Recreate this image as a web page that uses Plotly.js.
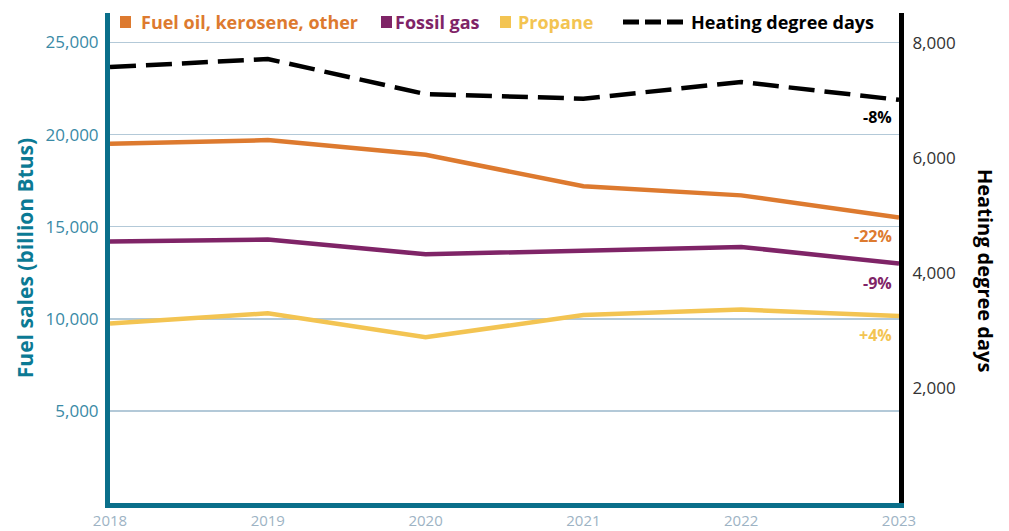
<!DOCTYPE html>
<html><head><meta charset="utf-8">
<script src="https://cdn.plot.ly/plotly-3.0.1.min.js"></script>
<style>html,body{margin:0;padding:0;background:#fff}#chart{width:1009px;height:531px}</style>
</head><body><div id="chart"></div>
<script>
const years = [2018, 2019, 2020, 2021, 2022, 2023];
const fuelOil = [19500, 19700, 18900, 17200, 16700, 15500];
const fossilGas = [14200, 14300, 13500, 13700, 13900, 13000];
const propane = [9750, 10300, 9000, 10200, 10500, 10150];
const hdd = [7580, 7720, 7110, 7030, 7320, 7010];
const seriesNames = ['Fuel oil, kerosene, other', 'Fossil gas', 'Propane', 'Heating degree days'];
const changeLabels = ['-22%', '-9%', '+4%', '-8%'];

const C_OIL = '#dd7a2f', C_GAS = '#7f2467', C_PRO = '#f3c452', C_HDD = '#000000';
const TEAL = '#0a6f8a';
const FONT = 'Open Sans, sans-serif';

const traces = [
  {x: years, y: fuelOil, name: seriesNames[0], mode: 'lines', line: {color: C_OIL, width: 4.5}},
  {x: years, y: fossilGas, name: seriesNames[1], mode: 'lines', line: {color: C_GAS, width: 4.5}},
  {x: years, y: propane, name: seriesNames[2], mode: 'lines', line: {color: C_PRO, width: 4.5}},
  {x: years, y: hdd, name: seriesNames[3], mode: 'lines', yaxis: 'y2', line: {color: C_HDD, width: 4.5, dash: '26px,10px'}}
];

const W = 1009, H = 531, ML = 110, MR = 110, MT = 13, MB = 28;
const pw = W - ML - MR, ph = H - MT - MB;
const px = x => (x - ML) / pw;
const py = y => (H - MB - y) / ph;

const last = years.length - 1;
const endLabel = (y, yref, text, color, shift) => ({
  x: years[last], y: y, xref: 'x', yref: yref, text: '<b>' + text + '</b>', showarrow: false,
  xanchor: 'right', yanchor: 'top', xshift: -5, yshift: shift, font: {family: FONT, size: 16, color: color}
});
const annotations = [
  endLabel(fuelOil[last], 'y', changeLabels[0], C_OIL, -6),
  endLabel(fossilGas[last], 'y', changeLabels[1], C_GAS, -6),
  endLabel(propane[last], 'y', changeLabels[2], C_PRO, -6),
  endLabel(hdd[last], 'y2', changeLabels[3], '#000', -4),
  {x: px(986), y: py(270), xref: 'paper', yref: 'paper', xanchor: 'center', yanchor: 'middle',
   text: '<b>Heating degree days</b>', textangle: 90, showarrow: false, font: {family: FONT, size: 20, color: '#000'}}
];

const legendItems = [
  {label: seriesNames[0], color: C_OIL, sq: 120, tx: 139},
  {label: seriesNames[1], color: C_GAS, sq: 381, tx: 393},
  {label: seriesNames[2], color: C_PRO, sq: 500, tx: 516}
];
const shapes = [];
const LY = 22;
legendItems.forEach(it => {
  shapes.push({type: 'rect', xref: 'paper', yref: 'paper', x0: px(it.sq), x1: px(it.sq + 11), y0: py(LY + 6), y1: py(LY - 6), fillcolor: it.color, line: {width: 0}});
  annotations.push({x: px(it.tx), y: py(LY), xref: 'paper', yref: 'paper', xanchor: 'left', yanchor: 'middle', text: '<b>' + it.label + '</b>', showarrow: false, font: {family: FONT, size: 18, color: it.color}});
});
shapes.push({type: 'line', xref: 'paper', yref: 'paper', x0: px(623), x1: px(687), y0: py(LY), y1: py(LY), line: {color: '#000', width: 5, dash: '16px,6px'}});
annotations.push({x: px(689), y: py(LY), xref: 'paper', yref: 'paper', xanchor: 'left', yanchor: 'middle', text: '<b>' + seriesNames[3] + '</b>', showarrow: false, font: {family: FONT, size: 18, color: '#000'}});

const layout = {
  width: W, height: H,
  margin: {l: ML, r: MR, t: MT, b: MB},
  paper_bgcolor: '#fff', plot_bgcolor: '#fff',
  showlegend: false,
  font: {family: FONT},
  xaxis: {
    range: [2018, 2023], tickvals: years, ticktext: years.map(String),
    showgrid: false, zeroline: false, showline: true, linecolor: TEAL, linewidth: 5,
    tickfont: {family: FONT, size: 15, color: '#9db3c4'}, ticks: '', ticklabelstandoff: 0
  },
  yaxis: {
    range: [0, 26600], tickvals: [5000, 10000, 15000, 20000, 25000],
    ticktext: ['5,000', '10,000', '15,000', '20,000', '25,000'],
    showgrid: true, gridcolor: '#b3c9d8', gridwidth: 1.5, zeroline: false,
    showline: true, linecolor: TEAL, linewidth: 5, ticks: '',
    tickfont: {family: FONT, size: 17, color: '#3a8aa6'}, ticklabelstandoff: 3,
    title: {text: '<b>Fuel sales (billion Btus)</b>', font: {family: FONT, size: 21, color: '#0b7a94'}, standoff: 8}
  },
  yaxis2: {
    overlaying: 'y', side: 'right', range: [0, 8520],
    tickvals: [2000, 4000, 6000, 8000], ticktext: ['2,000', '4,000', '6,000', '8,000'],
    showgrid: false, zeroline: false, showline: true, linecolor: '#000', linewidth: 5, ticks: '',
    tickfont: {family: FONT, size: 17, color: '#333'}, ticklabelstandoff: 5
  },
  shapes: shapes,
  annotations: annotations
};

Plotly.newPlot('chart', traces, layout, {displayModeBar: false, staticPlot: true});
</script></body></html>
